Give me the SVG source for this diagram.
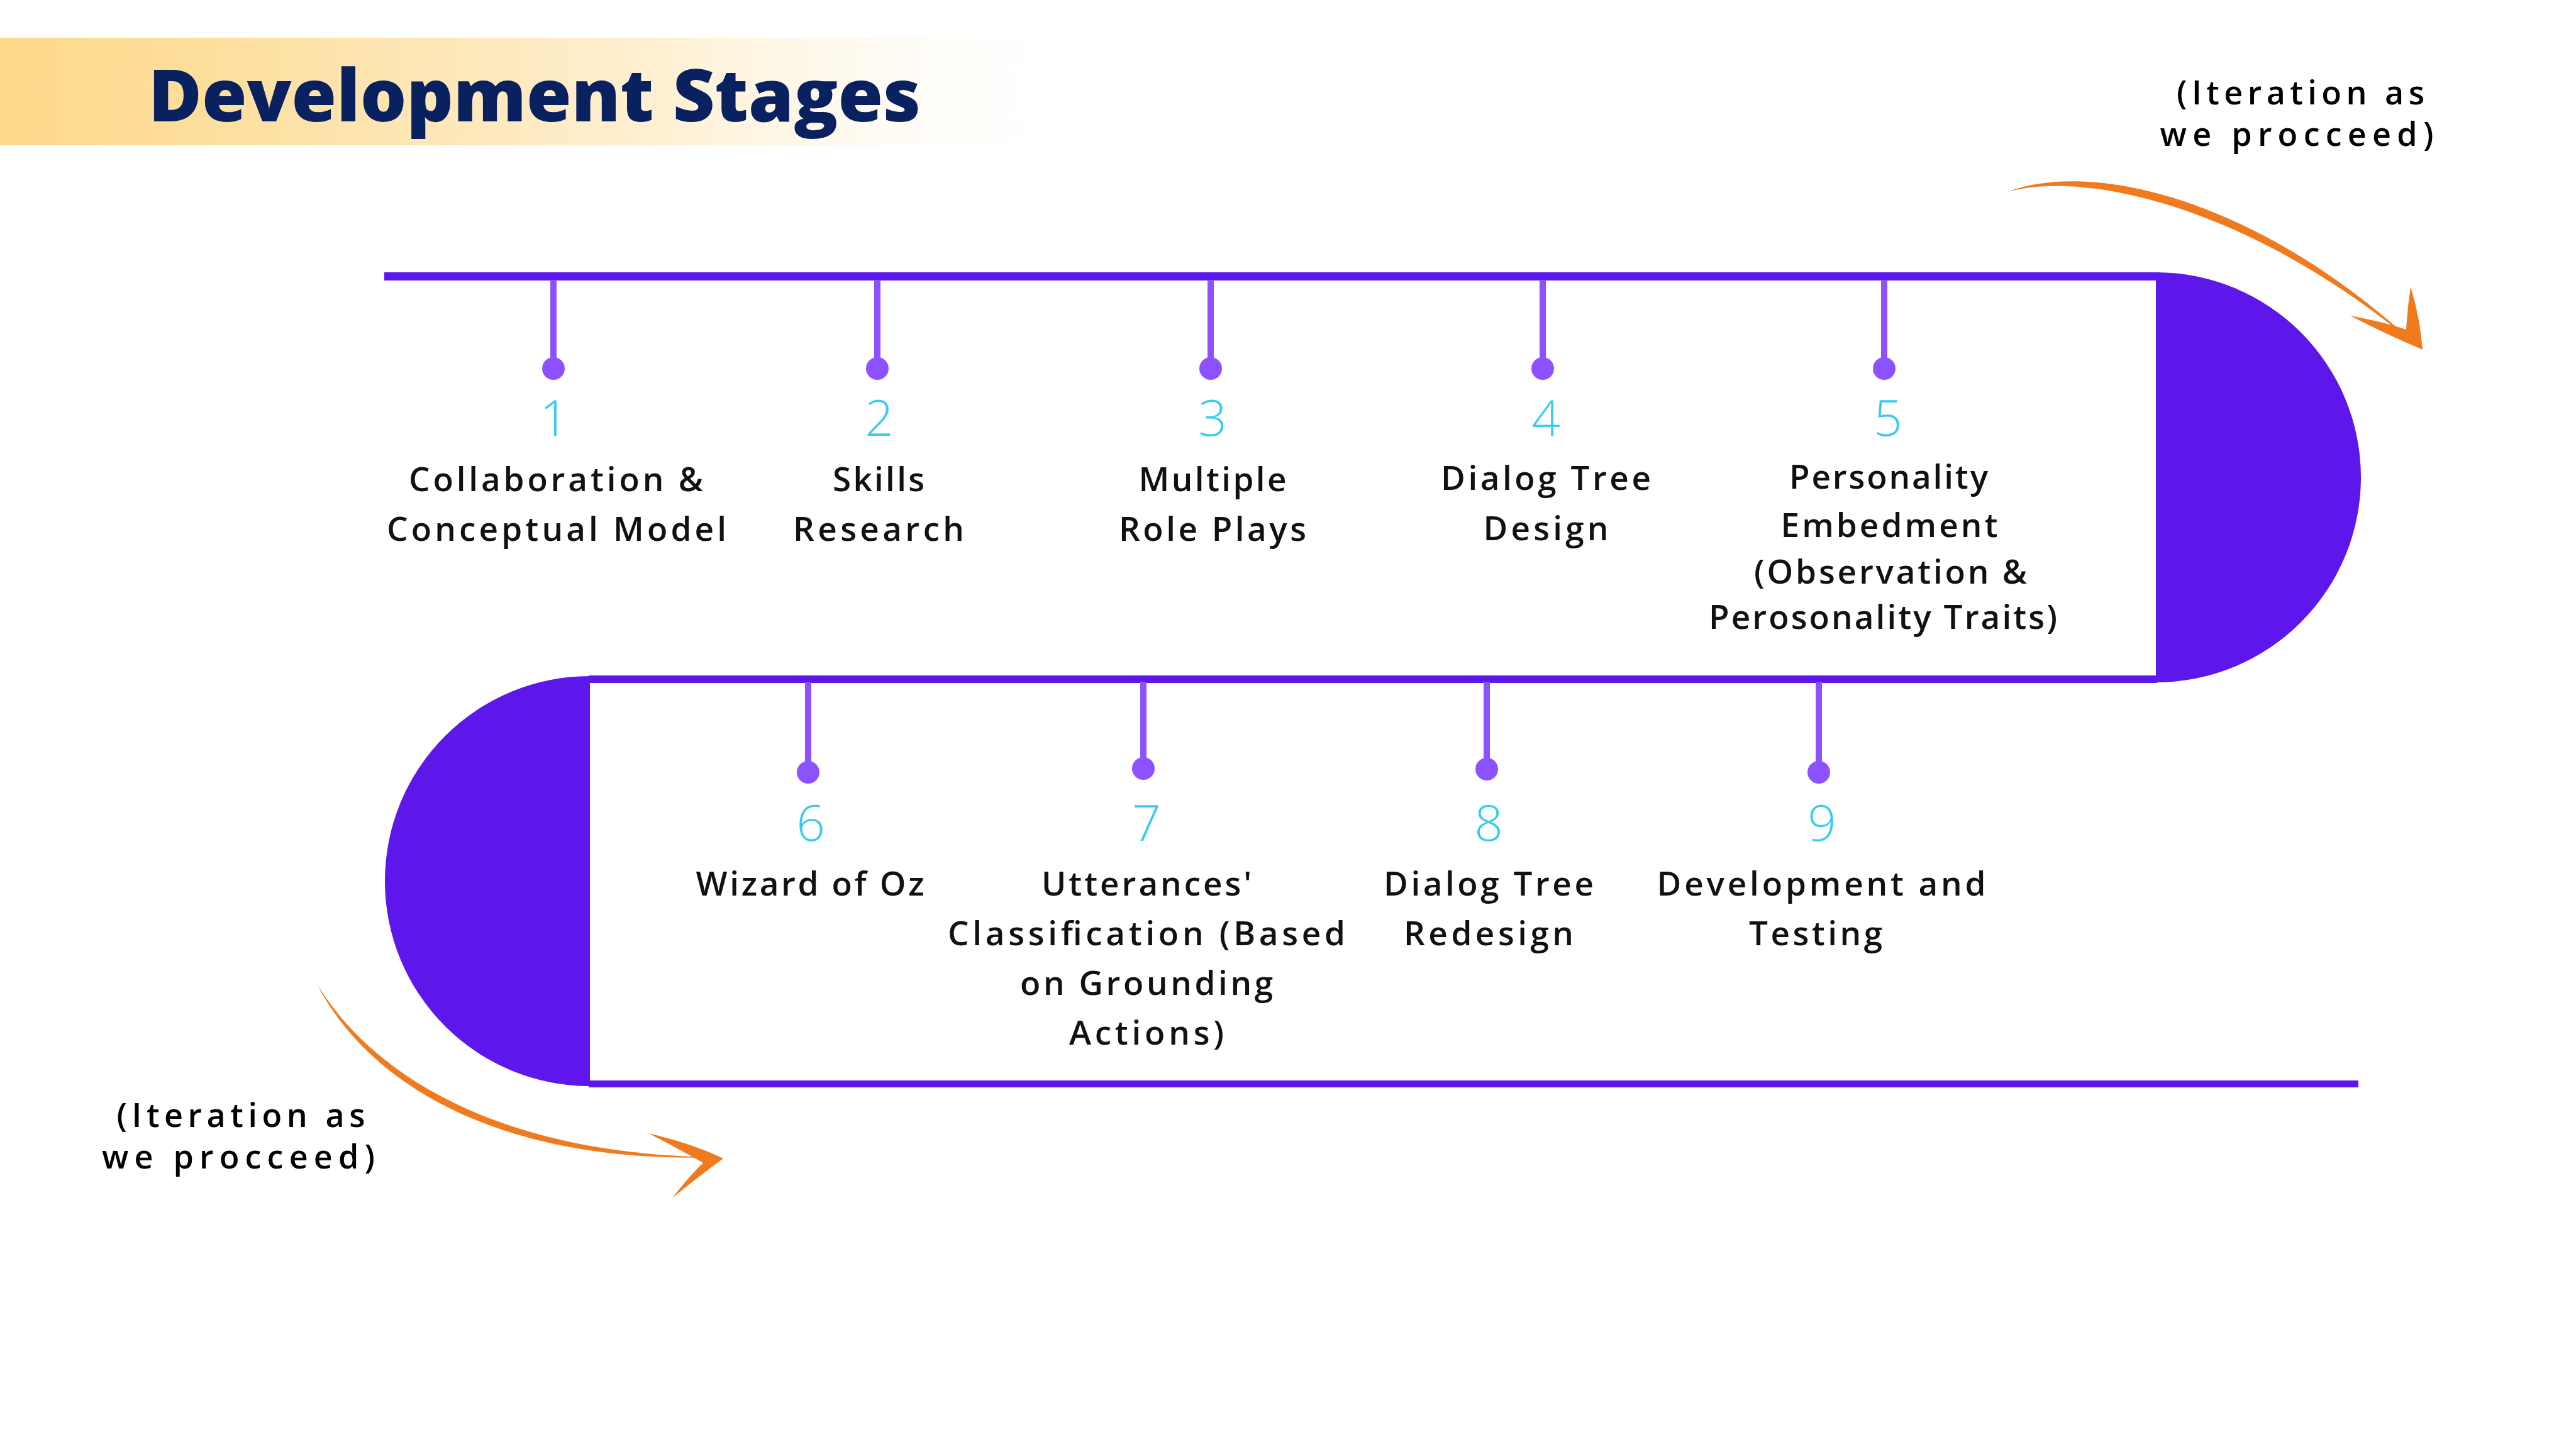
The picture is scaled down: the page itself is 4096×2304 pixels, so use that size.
<svg xmlns="http://www.w3.org/2000/svg" width="4096" height="2304" viewBox="0 0 4096 2304">
<defs>
<linearGradient id="band" x1="0" y1="0" x2="1" y2="0">
<stop offset="0" stop-color="#fdd98b"/>
<stop offset="0.15" stop-color="#fddd98"/>
<stop offset="0.6" stop-color="#fef0d2"/>
<stop offset="1" stop-color="#ffffff" stop-opacity="0"/>
</linearGradient>
<style>
.trk{fill:#5e17eb}
.stem{stroke:#8c52ff;stroke-width:10}
.dot{fill:#8c52ff}
.num{font-family:"Open Sans","Liberation Sans",sans-serif;font-size:80px;font-weight:300;fill:#3ccbf0;text-anchor:middle}
.lbl{font-family:"Open Sans","Liberation Sans",sans-serif;font-size:53px;font-weight:600;fill:#111111;text-anchor:middle}
.iter{font-family:"Open Sans","Liberation Sans",sans-serif;font-size:52px;font-weight:600;fill:#000000;text-anchor:middle}
.arr{fill:#f07a1e}
</style>
</defs>
<rect width="4096" height="2304" fill="#ffffff"/>
<rect x="0" y="60" width="1760" height="171" fill="url(#band)"/>
<text x="850" y="193" font-family="'Open Sans','Liberation Sans',sans-serif" font-size="116" font-weight="800" fill="#0a2160" text-anchor="middle" textLength="1228" lengthAdjust="spacingAndGlyphs">Development Stages</text>

<g id="track">
<rect class="trk" x="611" y="433" width="2822" height="13"/>
<path class="trk" d="M3428,433 A326,326 0 0 1 3428,1085 Z"/>
<rect class="trk" x="936" y="1074" width="2494" height="12"/>
<path class="trk" d="M938,1075 A326,326 0 0 0 938,1727 Z"/>
<rect class="trk" x="936" y="1718" width="2814" height="11"/>
</g>

<g id="connectors">
<path class="arr" d="M3192,305 C3332,252 3602,322 3850,556 C3598,340 3328,268 3192,305 Z"/>
<path class="arr" d="M3737,502 Q3790,512 3826,524 Q3828,490 3833,456 Q3848,505 3852,556 Q3795,532 3737,502 Z"/>
<path class="arr" d="M503,1563 C593,1713 800,1838 1147,1840 C800,1852 587,1727 503,1563 Z"/>
<path class="arr" d="M1031,1802 Q1100,1818 1150,1842 Q1105,1875 1069,1905 Q1096,1870 1118,1849 Q1078,1826 1031,1802 Z"/>
</g>

<g id="iter-top">
<text class="iter" x="3658" y="166" textLength="394" lengthAdjust="spacing">(Iteration as</text>
<text class="iter" x="3652" y="232" textLength="435" lengthAdjust="spacing">we procceed)</text>
</g>
<g id="iter-bottom">
<text class="iter" x="383" y="1792" textLength="395" lengthAdjust="spacing">(Iteration as</text>
<text class="iter" x="379" y="1858" textLength="434" lengthAdjust="spacing">we procceed)</text>
</g>

<g id="stage1">
<line class="stem" x1="880" y1="445" x2="880" y2="586"/>
<circle class="dot" cx="880" cy="586" r="18"/>
<text class="num" x="881" y="693">1</text>
<text class="lbl" x="884" y="781" textLength="468" lengthAdjust="spacing">Collaboration &amp;</text>
<text class="lbl" x="885" y="860" textLength="540" lengthAdjust="spacing">Conceptual Model</text>
</g>
<g id="stage2">
<line class="stem" x1="1395" y1="445" x2="1395" y2="586"/>
<circle class="dot" cx="1395" cy="586" r="18"/>
<text class="num" x="1398" y="693">2</text>
<text class="lbl" x="1397" y="781" textLength="146" lengthAdjust="spacing">Skills</text>
<text class="lbl" x="1397" y="860" textLength="272" lengthAdjust="spacing">Research</text>
</g>
<g id="stage3">
<line class="stem" x1="1925" y1="445" x2="1925" y2="586"/>
<circle class="dot" cx="1925" cy="586" r="18"/>
<text class="num" x="1928" y="693">3</text>
<text class="lbl" x="1928" y="781" textLength="235" lengthAdjust="spacing">Multiple</text>
<text class="lbl" x="1928" y="860" textLength="298" lengthAdjust="spacing">Role Plays</text>
</g>
<g id="stage4">
<line class="stem" x1="2453" y1="445" x2="2453" y2="586"/>
<circle class="dot" cx="2453" cy="586" r="18"/>
<text class="num" x="2458" y="693">4</text>
<text class="lbl" x="2458" y="779" textLength="334" lengthAdjust="spacing">Dialog Tree</text>
<text class="lbl" x="2458" y="859" textLength="199" lengthAdjust="spacing">Design</text>
</g>
<g id="stage5">
<line class="stem" x1="2996" y1="445" x2="2996" y2="586"/>
<circle class="dot" cx="2996" cy="586" r="18"/>
<text class="num" x="3002" y="693">5</text>
<text class="lbl" x="3003" y="777" textLength="316" lengthAdjust="spacing">Personality</text>
<text class="lbl" x="3004" y="854" textLength="345" lengthAdjust="spacing">Embedment</text>
<text class="lbl" x="3006" y="928" textLength="434" lengthAdjust="spacing">(Observation &amp;</text>
<text class="lbl" x="2994" y="1000" textLength="554" lengthAdjust="spacing">Perosonality Traits)</text>
</g>
<g id="stage6">
<line class="stem" x1="1285" y1="1084" x2="1285" y2="1228"/>
<circle class="dot" cx="1285" cy="1228" r="18"/>
<text class="num" x="1289" y="1337">6</text>
<text class="lbl" x="1288" y="1424" textLength="363" lengthAdjust="spacing">Wizard of Oz</text>
</g>
<g id="stage7">
<line class="stem" x1="1818" y1="1084" x2="1818" y2="1222"/>
<circle class="dot" cx="1818" cy="1222" r="18"/>
<text class="num" x="1823" y="1337">7</text>
<text class="lbl" x="1823" y="1424" textLength="334" lengthAdjust="spacing">Utterances'</text>
<text class="lbl" x="1823" y="1503" textLength="632" lengthAdjust="spacing">Classification (Based</text>
<text class="lbl" x="1823" y="1582" textLength="402" lengthAdjust="spacing">on Grounding</text>
<text class="lbl" x="1823" y="1661" textLength="246" lengthAdjust="spacing">Actions)</text>
</g>
<g id="stage8">
<line class="stem" x1="2364" y1="1084" x2="2364" y2="1223"/>
<circle class="dot" cx="2364" cy="1223" r="18"/>
<text class="num" x="2367" y="1337">8</text>
<text class="lbl" x="2367" y="1424" textLength="334" lengthAdjust="spacing">Dialog Tree</text>
<text class="lbl" x="2367" y="1503" textLength="270" lengthAdjust="spacing">Redesign</text>
</g>
<g id="stage9">
<line class="stem" x1="2892" y1="1084" x2="2892" y2="1228"/>
<circle class="dot" cx="2892" cy="1228" r="18"/>
<text class="num" x="2897" y="1337">9</text>
<text class="lbl" x="2896" y="1424" textLength="523" lengthAdjust="spacing">Development and</text>
<text class="lbl" x="2887" y="1503" textLength="212" lengthAdjust="spacing">Testing</text>
</g>
</svg>
